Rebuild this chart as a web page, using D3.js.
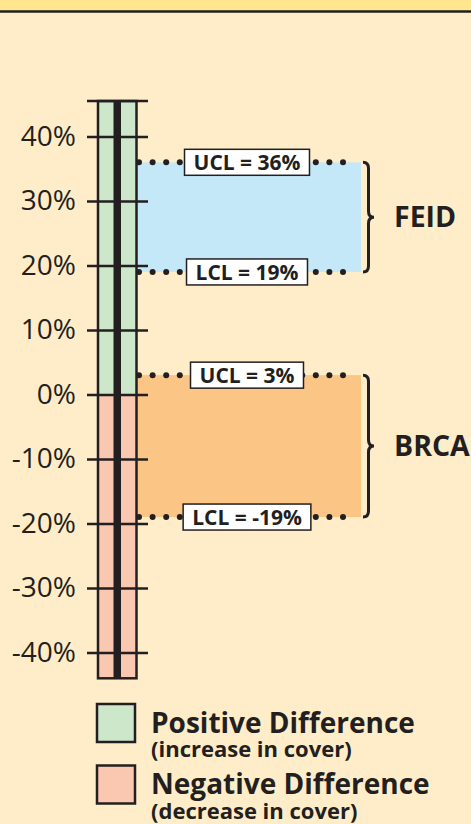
<!DOCTYPE html>
<html>
<head>
<meta charset="utf-8">
<script src="https://cdn.jsdelivr.net/npm/d3@7"></script>
<style>
  body { margin: 0; background: #feedc8; }
  svg { display: block; font-family: "Open Sans", sans-serif; }
</style>
</head>
<body>
<script>
// tick values on the axis (percent)
var tickValues = [-40, -30, -20, -10, 0, 10, 20, 30, 40];
// extent of the thermometer column (percent)
var columnExtent = [-44, 45.5];
// control limit groups
var groups = ["FEID", "BRCA"];
var upperLimits = [36, 3];
var lowerLimits = [19, -19];
// legend
var legendTitles = ["Positive Difference", "Negative Difference"];
var legendNotes = ["(increase in cover)", "(decrease in cover)"];

var colors = {
  bg: "#feedc8",
  band: "#ffe68f",
  dark: "#231f20",
  pos: "#cde7cb",
  neg: "#fac7b1",
  groups: ["#c5e8f8", "#fbc585"]
};

window.onload = function() {
  var width = 471, height = 824;

  var svg = d3.select("body").append("svg")
              .attr("width", width)
              .attr("height", height);

  // header strip
  svg.append("rect").attr("width", width).attr("height", 11).attr("fill", colors.band);
  svg.append("line")
     .attr("x1", 0).attr("x2", width).attr("y1", 11.5).attr("y2", 11.5)
     .attr("stroke", colors.dark).attr("stroke-width", 2.5);

  var y = d3.scaleLinear().domain([-40, 40]).range([652.5, 136.5]);

  // column geometry
  var colLeft = 98, colRight = 136.5, coreW = 7.5;
  var colMid = (colLeft + colRight) / 2;

  // group bands behind the column
  var bandRight = 361;
  groups.forEach(function(g, i) {
    svg.append("rect")
       .attr("x", colRight)
       .attr("y", y(upperLimits[i]))
       .attr("width", bandRight - colRight)
       .attr("height", y(lowerLimits[i]) - y(upperLimits[i]))
       .attr("fill", colors.groups[i]);
  });

  // positive / negative halves
  svg.append("rect")
     .attr("x", colLeft).attr("y", y(columnExtent[1]))
     .attr("width", colRight - colLeft).attr("height", y(0) - y(columnExtent[1]))
     .attr("fill", colors.pos);
  svg.append("rect")
     .attr("x", colLeft).attr("y", y(0))
     .attr("width", colRight - colLeft).attr("height", y(columnExtent[0]) - y(0))
     .attr("fill", colors.neg);
  svg.append("rect")
     .attr("x", colLeft).attr("y", y(columnExtent[1]))
     .attr("width", colRight - colLeft)
     .attr("height", y(columnExtent[0]) - y(columnExtent[1]))
     .attr("fill", "none").attr("stroke", colors.dark).attr("stroke-width", 2.5);
  svg.append("rect")
     .attr("x", colMid - coreW / 2).attr("y", y(columnExtent[1]))
     .attr("width", coreW).attr("height", y(columnExtent[0]) - y(columnExtent[1]))
     .attr("fill", colors.dark);

  // top cap
  svg.append("line")
     .attr("x1", 87).attr("x2", 148)
     .attr("y1", y(columnExtent[1])).attr("y2", y(columnExtent[1]))
     .attr("stroke", colors.dark).attr("stroke-width", 2.5);

  // axis
  var axis = d3.axisLeft(y)
               .tickValues(tickValues)
               .tickSize(61)
               .tickPadding(11)
               .tickFormat(function(d) { return d + "%"; });
  var gAxis = svg.append("g")
                 .attr("transform", "translate(148,0)")
                 .call(axis);
  gAxis.select(".domain").remove();
  gAxis.selectAll(".tick line").attr("stroke", colors.dark).attr("stroke-width", 2.5);
  gAxis.selectAll(".tick text")
       .attr("fill", colors.dark)
       .style("font-size", "28px")
       .style("font-family", "'Open Sans', sans-serif");

  // dotted limit lines, label boxes, braces
  var dotStart = 139, dotEnd = 356, dotStep = 13.6;
  var dotXs = d3.range(dotStart, dotEnd + 0.1, dotStep);
  var labelX = 247;

  groups.forEach(function(g, i) {
    [["UCL", upperLimits[i]], ["LCL", lowerLimits[i]]].forEach(function(lim) {
      var ly = y(lim[1]);
      svg.append("g").selectAll("circle")
         .data(dotXs).join("circle")
         .attr("cx", function(d) { return d; })
         .attr("cy", ly)
         .attr("r", 3)
         .attr("fill", colors.dark);

      var gl = svg.append("g");
      var box = gl.append("rect");
      var txt = gl.append("text")
                  .attr("x", labelX).attr("y", ly)
                  .attr("dy", "0.36em")
                  .attr("text-anchor", "middle")
                  .attr("fill", colors.dark)
                  .style("font-size", "21px")
                  .style("font-weight", 700)
                  .text(lim[0] + " = " + lim[1] + "%");
      var w = txt.node().getComputedTextLength() + 18;
      box.attr("x", labelX - w / 2).attr("y", ly - 13)
         .attr("width", w).attr("height", 26)
         .attr("fill", "#fff").attr("stroke", colors.dark).attr("stroke-width", 1.5);
    });

    // brace
    var y0 = y(upperLimits[i]), y1 = y(lowerLimits[i]);
    var ym = (y0 + y1) / 2, bx = 363, bw = 11, q = 6;
    var path = d3.path();
    path.moveTo(bx, y0);
    path.quadraticCurveTo(bx + bw / 2, y0, bx + bw / 2, y0 + q);
    path.lineTo(bx + bw / 2, ym - q);
    path.quadraticCurveTo(bx + bw / 2, ym, bx + bw, ym);
    path.quadraticCurveTo(bx + bw / 2, ym, bx + bw / 2, ym + q);
    path.lineTo(bx + bw / 2, y1 - q);
    path.quadraticCurveTo(bx + bw / 2, y1, bx, y1);
    svg.append("path").attr("d", path.toString())
       .attr("fill", "none").attr("stroke", colors.dark).attr("stroke-width", 3);

    svg.append("text")
       .attr("x", 394).attr("y", ym)
       .attr("dy", "0.36em")
       .attr("fill", colors.dark)
       .style("font-size", "28.5px")
       .style("font-weight", 700)
       .text(g);
  });

  // legend
  var legendFills = [colors.pos, colors.neg];
  legendTitles.forEach(function(t, i) {
    var top = 704 + i * 61.5;
    svg.append("rect")
       .attr("x", 97).attr("y", top).attr("width", 38).attr("height", 38)
       .attr("fill", legendFills[i]).attr("stroke", colors.dark).attr("stroke-width", 2.5);
    svg.append("text")
       .attr("x", 151).attr("y", top + 28.5)
       .attr("fill", colors.dark)
       .style("font-size", "28px").style("font-weight", 700)
       .text(t);
    svg.append("text")
       .attr("x", 151).attr("y", top + 53)
       .attr("fill", colors.dark)
       .style("font-size", "22px").style("font-weight", 700)
       .text(legendNotes[i]);
  });
};
</script>
</body>
</html>
